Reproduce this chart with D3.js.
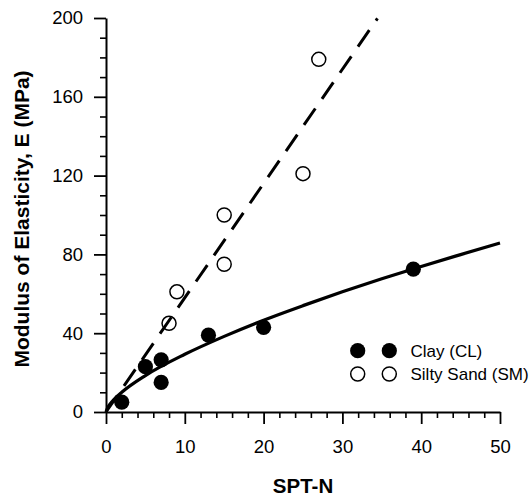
<!DOCTYPE html>
<html>
<head>
<meta charset="utf-8">
<script src="https://cdn.jsdelivr.net/npm/d3@7"></script>
<style>
  html, body { margin: 0; padding: 0; background: #fff; }
  svg { display: block; font-family: "Liberation Sans", Arial, sans-serif; }
</style>
</head>
<body>
<svg id="chart" width="530" height="496"></svg>
<script>
// ---- data ----
const clayN = [2, 5, 7, 7, 13, 20, 39];
const clayE = [5, 23, 26.5, 15, 39, 43, 72.5];
const sandN = [8, 9, 15, 15, 25, 27];
const sandE = [45, 61, 75, 100, 121, 179];
// trend line for clay
const clayFitN = [0, 0.25, 0.5, 1, 2, 5, 10, 15, 20, 25, 30, 35, 40, 45, 50];
const clayFitE = [0, 2.5, 4, 6.3, 10, 18.5, 29.3, 38.4, 46.6, 54, 61, 67.6, 73.9, 79.9, 85.8];
// trend line for silty sand (dashed straight line)
const sandFitN = [0, 34.45];
const sandFitE = [0, 199.8];
const xMajorTicks = [0, 10, 20, 30, 40, 50];
const xMinorTicks = [2, 4, 6, 8, 12, 14, 16, 18, 22, 24, 26, 28, 32, 34, 36, 38, 42, 44, 46, 48];
const yMajorTicks = [0, 40, 80, 120, 160, 200];
const yMinorTicks = [10, 20, 30, 50, 60, 70, 90, 100, 110, 130, 140, 150, 170, 180, 190];
const legendLabels = ["Clay (CL)", "Silty Sand (SM)"];
const xTitle = "SPT-N";
const yTitle = "Modulus of Elasticity, E (MPa)";

const svg = d3.select("#chart");
const x = d3.scaleLinear().domain([0, 50]).range([106, 500]);
const y = d3.scaleLinear().domain([0, 200]).range([412, 18]);

// ---- axes ----
const tickFont = "18.5px";
function styleAxis(g, width) {
  g.select(".domain").attr("stroke", "#000").attr("stroke-width", 2);
  g.selectAll(".tick line").attr("stroke", "#000").attr("stroke-width", width);
  g.selectAll(".tick text").attr("fill", "#000").style("font-size", tickFont)
    .style("font-family", '"Liberation Sans", Arial, sans-serif');
}
// minor ticks
svg.append("g").attr("transform", "translate(0,412)")
  .call(d3.axisBottom(x).tickValues(xMinorTicks).tickSize(6).tickSizeOuter(0).tickFormat(""))
  .call(g => { styleAxis(g, 1.6); g.select(".domain").remove(); });
svg.append("g").attr("transform", "translate(106,0)")
  .call(d3.axisLeft(y).tickValues(yMinorTicks).tickSize(6).tickSizeOuter(0).tickFormat(""))
  .call(g => { styleAxis(g, 1.6); g.select(".domain").remove(); });
// major ticks
svg.append("g").attr("transform", "translate(0,412)")
  .call(d3.axisBottom(x).tickValues(xMajorTicks).tickSize(12).tickPadding(16).tickSizeOuter(0).tickFormat(d3.format("d")))
  .call(g => styleAxis(g, 1.8));
svg.append("g").attr("transform", "translate(106,0)")
  .call(d3.axisLeft(y).tickValues(yMajorTicks).tickSize(12).tickPadding(11).tickSizeOuter(0).tickFormat(d3.format("d")))
  .call(g => styleAxis(g, 1.8));

// ---- titles ----
svg.append("text").attr("x", 303).attr("y", 493).attr("text-anchor", "middle")
  .style("font-size", "20.5px").style("font-weight", "bold").text(xTitle);
svg.append("text").attr("transform", "translate(28.5,219) rotate(-90)").attr("text-anchor", "middle")
  .style("font-size", "21px").style("font-weight", "bold").text(yTitle);

// ---- trend lines ----
const clayFit = clayFitN.map((n, i) => [n, clayFitE[i]]);
const sandFit = sandFitN.map((n, i) => [n, sandFitE[i]]);
const line = d3.line().x(d => x(d[0])).y(d => y(d[1]));
svg.append("path").datum(sandFit).attr("d", line)
  .attr("fill", "none").attr("stroke", "#000").attr("stroke-width", 3)
  .attr("stroke-dasharray", "20,11.7");
svg.append("path").datum(clayFit).attr("d", line.curve(d3.curveMonotoneX))
  .attr("fill", "none").attr("stroke", "#000").attr("stroke-width", 3.2);

// ---- points ----
const clay = clayN.map((n, i) => [n, clayE[i]]);
const sand = sandN.map((n, i) => [n, sandE[i]]);
svg.append("g").selectAll("circle").data(sand).join("circle")
  .attr("cx", d => x(d[0])).attr("cy", d => y(d[1])).attr("r", 7)
  .attr("fill", "none").attr("stroke", "#000").attr("stroke-width", 1.5);
svg.append("g").selectAll("circle").data(clay).join("circle")
  .attr("cx", d => x(d[0])).attr("cy", d => y(d[1])).attr("r", 7.6)
  .attr("fill", "#000");

// ---- legend ----
const leg = svg.append("g");
legendLabels.forEach((lab, i) => {
  const cy = 350.7 + i * 23.3;
  [357.7, 389.3].forEach(cx => {
    leg.append("circle").attr("cx", cx).attr("cy", cy).attr("r", i === 0 ? 7.6 : 7)
      .attr("fill", i === 0 ? "#000" : "none").attr("stroke", "#000")
      .attr("stroke-width", i === 0 ? 0 : 1.5);
  });
  leg.append("text").attr("x", 410.5).attr("y", cy + 6).style("font-size", "17px").text(lab);
});
</script>
</body>
</html>
